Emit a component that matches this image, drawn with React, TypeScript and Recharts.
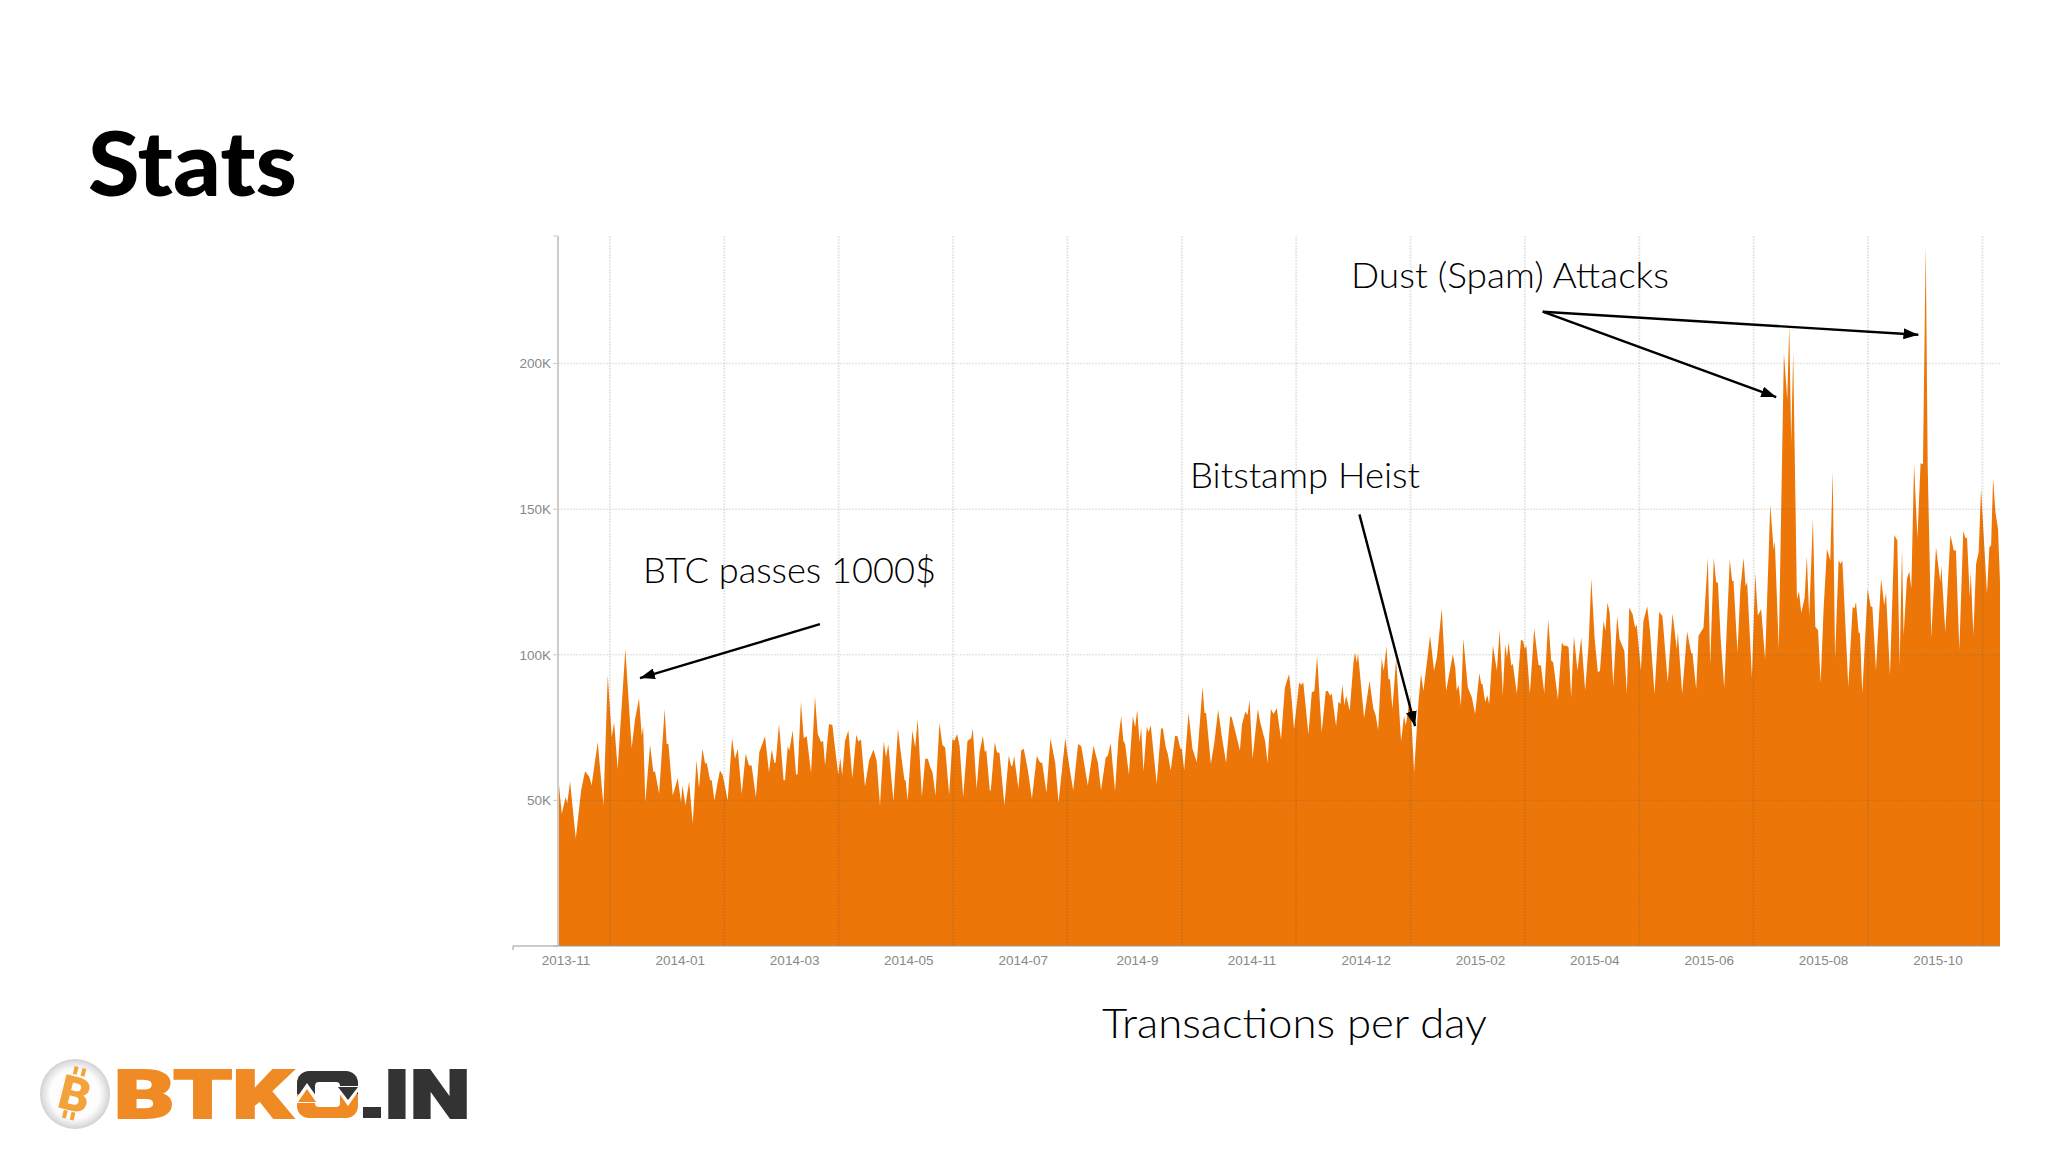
import { AreaChart, Area, XAxis, YAxis, ReferenceLine } from 'recharts';

// days since the left edge of the chart
const days = [
  0, 1.9, 3.9, 4.7, 6.1, 9, 11.7, 13.7, 15.9, 17,
  20.1, 23, 25.2, 27.2, 28.4, 30.2, 34.1, 37.3, 39, 41,
  42.4, 43.1, 44.2, 46.6, 48.3, 49.1, 51.2, 54, 55, 55.9,
  58.1, 60.6, 62.3, 63, 64.5, 66.4, 68.2, 70.1, 71.4, 73.1,
  74.5, 75.3, 77, 77.8, 79.2, 80.7, 82, 83.4, 85.9, 88.1,
  89.6, 91, 93, 95, 96.7, 98, 100.2, 101.9, 104.8, 106.8,
  108.2, 109.5, 110.2, 111.9, 114.2, 114.9, 116.3, 117.1, 118.8, 120.5,
  121.3, 123, 124.4, 125.9, 128.1, 130.1, 131.5, 133.2, 134.2, 135.2,
  137.2, 138.9, 140.2, 141.9, 142.9, 143.9, 145.3, 147, 149, 151,
  152, 153.4, 155.4, 157.5, 159.7, 161.3, 163, 164.9, 166.1, 167.2,
  169.8, 172.1, 173.2, 175.4, 176, 177, 179.4, 180.8, 182.1, 184.2,
  185.9, 187.2, 188.6, 189.6, 191.1, 193.1, 194.6, 196, 198, 199.7,
  200.7, 202, 203.3, 205.1, 207.3, 209.2, 210, 211.9, 213.5, 215.1,
  216.1, 216.8, 218.6, 219.1, 221.1, 222.2, 223.5, 226, 228.2, 229.4,
  230.1, 230.9, 233.1, 234.5, 235.8, 237.9, 239.9, 242.4, 244.1, 245.1,
  247.3, 249.3, 251.7, 253.4, 256.8, 258, 260.8, 263.3, 264.9, 268.2,
  271.1, 271.9, 273.3, 274.9, 277.3, 278.3, 279.8, 282, 283.7, 285.1,
  286.2, 287.1, 289, 291, 292.2, 293.2, 294.4, 295.2, 296.4, 298.1,
  298.9, 300.1, 303.1, 305.3, 306.2, 307.7, 308.7, 310.2, 312.4, 313.6,
  315.1, 315.8, 317, 319.2, 321.2, 323.4, 326.3, 327.3, 328.1, 330.5,
  332.3, 334.2, 336, 338.2, 340.3, 341.1, 343.6, 345.2, 346.3, 348,
  349.1, 350.1, 351.6, 354.3, 355.5, 358, 359.2, 360.9, 362.2, 363.9,
  366, 368, 370.1, 371.4, 372.6, 375.2, 376.2, 377.3, 379.9, 381.6,
  382.9, 384.3, 386.6, 388.7, 389.7, 390.9, 391.7, 393.9, 395.1, 396.1,
  397.1, 398.1, 399, 400.8, 402.7, 403.5, 404.4, 405, 408.1, 410.8,
  412.8, 413.8, 415.2, 417, 418, 419.4, 420.4, 421.2, 422.4, 424.3,
  426.8, 428.3, 429.2, 431.4, 433.4, 435.6, 436.9, 438.1, 441.5, 443.5,
  444.9, 447.4, 449.6, 453, 454.2, 455, 455.9, 457.1, 458.3, 460.6,
  462.6, 464.3, 466.4, 467.4, 468, 469.4, 470.4, 471.4, 473.3, 475.3,
  476.7, 478.3, 479.5, 480.4, 481.2, 482.6, 483.4, 485.4, 487.5, 488.5,
  489.5, 490.2, 492, 494.2, 496.4, 497.6, 499.3, 501.3, 502.8, 503.8,
  506.2, 508.2, 509.2, 510.7, 511.6, 512.9, 514.3, 516.1, 518, 520,
  521.7, 523.1, 524.8, 526.4, 527.5, 529.3, 530.3, 531.3, 532.4, 534.2,
  536.2, 537.4, 539.8, 541.1, 542.3, 544, 545.3, 546.1, 548.2, 549.5,
  551.4, 552.9, 555.1, 557.5, 559.1, 561.8, 564.2, 566.4, 566.9, 569.1,
  571.6, 573.7, 574.3, 576.2, 577.4, 579.9, 582.1, 583.3, 585.1, 586.3,
  587.2, 588.7, 590.4, 593.2, 594.4, 595.1, 597.1, 598.6, 600.2, 601.2,
  602, 604.4, 606.1, 607.4, 609.1, 611.1, 613.7, 615.4, 616, 618,
  620.6, 622.3, 623.3, 624.3, 625.3, 627.2, 628.2, 629.4, 631.1, 632.2,
  633.4, 635.3, 636.5, 637.9, 639.2, 640.7, 642.4, 644.1, 645.3, 646.5,
  648.3, 649.3, 650.2, 653.2, 655.4, 656.4, 657.1, 658.4, 659.1, 660.3,
  663, 664.5, 665.4, 667.2, 669.8, 671.4, 672.3, 674.3, 676.5, 678,
  679.2, 680.4, 681.2, 682.9, 684.1, 685.1, 686.5, 688.2, 689.8, 691,
  692.4, 693.4, 695.2, 697.6, 699.8, 700.3, 702.3, 704.9, 706.6, 707.7,
  709.4, 711.4, 712.5, 713.3, 714.7, 715.2, 716.5, 717.9, 719.2, 720.4,
  721.7, 723.4, 724.6, 725.5, 726.5, 727.7, 729, 730,
];

// transactions per day, in thousands
const txPerDay = [
  58.8, 45.4, 51.2, 48.9, 56.5, 36.9, 53.4, 60, 58, 55.1,
  70, 48.3, 93, 71.7, 76.8, 60.8, 101.9, 67.9, 77.9, 85,
  72.2, 75.4, 49.4, 69, 59.7, 60, 52.3, 81.4, 69.4, 69.4,
  51.7, 57.6, 49.4, 55.1, 48.3, 56.5, 42, 63.7, 54.3, 67.7,
  62.6, 62.9, 56.9, 56.9, 50, 55.7, 60.3, 58.6, 50, 71.3,
  64.3, 67.7, 52.3, 66, 62, 62, 51.2, 66.5, 72, 59.7,
  67.5, 62.9, 63, 76.2, 56.9, 56.9, 68.6, 67.1, 74, 58.8,
  59.1, 83.9, 71.3, 72, 59.4, 85.7, 72.8, 70, 70.5, 62,
  76.2, 75.9, 68.2, 58.8, 64.5, 58.6, 70.5, 74, 57.6, 72.5,
  70.2, 70.9, 54.8, 63.7, 67.5, 63.7, 48.3, 70.2, 64.8, 69.4,
  49.7, 74.7, 68.2, 56.9, 56.9, 50, 74, 68.2, 77.9, 51.2,
  64.3, 64.3, 61.1, 59.7, 51.7, 76.6, 69, 68.2, 51.9, 71.1,
  70.5, 72.8, 68.8, 51.2, 70.5, 71.3, 74.7, 54, 66.8, 72.2,
  66.5, 67.3, 53.4, 53.4, 70, 66.5, 66.3, 48.3, 65.4, 61.8,
  62, 65.2, 54, 67.1, 67.7, 60.3, 50.6, 65.2, 62.9, 62.9,
  52.6, 71.3, 62.9, 49.4, 71.3, 65.4, 53.4, 69.4, 68.6, 55.1,
  68.8, 66.5, 63.1, 53.4, 64.8, 65.2, 69.6, 53.1, 71.1, 78.9,
  70.5, 69.4, 58.8, 78.9, 75.1, 81.1, 70, 75.1, 59.9, 75.4,
  73.4, 75.7, 55.7, 74.7, 74.7, 68.2, 66, 60.3, 72.2, 72,
  67.7, 67.7, 60.3, 80, 67.7, 63.1, 89, 80, 80, 62.6,
  70, 81.1, 72.2, 62.9, 78.9, 78.5, 71.7, 67.1, 76.2, 80.4,
  79.3, 84.5, 64.3, 81.4, 76.8, 70.2, 62.9, 81.4, 79.7, 81.6,
  70.9, 88.8, 93.4, 84.8, 74.3, 90.5, 89.6, 90.5, 72.6, 87.1,
  87.6, 99.6, 73.4, 87.6, 87.6, 85.9, 86.7, 75.5, 83.9, 83.1,
  89.9, 82.7, 85.9, 80.8, 97.3, 100.8, 97.3, 100.5, 78.2, 91.1,
  81.4, 79.7, 74.2, 98.7, 94.5, 102.8, 91.6, 91.6, 81.4, 98.5,
  70.2, 79.1, 75.7, 85.9, 59.7, 83.7, 93.4, 87.6, 106.5, 94.5,
  99, 115.8, 87.6, 100.2, 95.7, 87.7, 89.6, 82.5, 105.6, 88.8,
  85.4, 79.7, 93.7, 90, 90, 83.7, 86.2, 83.1, 103.3, 94.5,
  108.6, 86.2, 103.6, 99.1, 104.4, 96.2, 96.8, 86.6, 105.1, 104.8,
  101.9, 103.3, 86.6, 109, 96.5, 96.2, 86.9, 112, 98, 97.4,
  84.8, 104.2, 103.1, 103.1, 102.5, 85.4, 106.3, 94.5, 105.9, 87.7,
  103.1, 126.2, 105.4, 94, 94.5, 111.6, 108.2, 117.9, 114.5, 89.4,
  113.3, 105.4, 101.4, 86.6, 116.2, 113.9, 109.3, 110.4, 94.5, 111.6,
  116.7, 107.6, 86.5, 114.7, 113.3, 90.5, 114.2, 101.9, 107.8, 86.5,
  108, 100.5, 100.5, 88.2, 106.5, 109.3, 133.3, 96.8, 133.3, 124.9,
  124.7, 104.2, 88.8, 132.7, 125.3, 125.3, 100.8, 123, 133.3, 123.6,
  124.9, 92.2, 128.1, 113.5, 115.6, 98.5, 151.5, 136.1, 139, 101.9,
  203.6, 187.6, 213.4, 172.6, 203.9, 119, 121.9, 114.4, 119.6, 133.8,
  113.3, 146.9, 109.6, 108.4, 90.2, 115.8, 136.3, 132.4, 163.1, 98.7,
  132.4, 131.2, 132.4, 89, 116.4, 116, 118.1, 107.8, 107.3, 86.8,
  122.7, 116.7, 116.4, 94.7, 126.1, 117, 121.5, 93, 141.1, 139.2,
  96.4, 136.6, 106.7, 126.1, 128.6, 122.7, 165.4, 139.8, 165.8, 165.4,
  240.6, 164.8, 106.1, 136.9, 124.9, 130.6, 107.8, 141.1, 135.8, 135.8,
  101.6, 142.6, 140, 140.3, 119.8, 128.4, 106.7, 131.2, 135.2, 156.9,
  141.5, 120.9, 136.9, 137.5, 160.5, 148.9, 143.2, 125,
];

const xTickDays = [4, 61.9, 119.8, 177.6, 235.5, 293.4, 351.3, 409.2, 467, 524.9, 582.8, 640.7, 698.6];
const xTickLabels = [
  '2013-11', '2014-01', '2014-03', '2014-05', '2014-07', '2014-9', '2014-11',
  '2014-12', '2015-02', '2015-04', '2015-06', '2015-08', '2015-10',
];
const yTop = 243.8;
const yTicks = [0, 50, 100, 150, 200, yTop];
const yGrid = [50, 100, 150, 200];
const xGridDays = [26.3, 84.2, 142.1, 200, 257.9, 315.8, 373.7, 431.6, 489.5, 547.4, 605.3, 663.2, 721.1];

// arrows, in chart units: [fromDay, fromTx, toDay, toTx]
const arrows = [
  [132.6, 110.5, 41.5, 92],
  [405.7, 148.2, 433.9, 75.5],
  [498.5, 217.8, 688.7, 209.9],
  [498.5, 217.8, 616.7, 188.5],
];

const data = days.map((day, i) => ({ day, tx: txPerDay[i] }));

const GRID = 'rgba(85,85,85,0.14)';
const ORANGE = '#ec7607';
const LOGO_ORANGE = '#ef8a24';
const LOGO_DARK = '#333333';
const tickStyle = { fontSize: 13.5, fill: '#888888', fontFamily: '"Liberation Sans", Arial, sans-serif' };
const noteFont = 'Lato, "Open Sans", sans-serif';

function ArrowLine(props: any) {
  return (
    <line
      x1={props.x1}
      y1={props.y1}
      x2={props.x2}
      y2={props.y2}
      stroke="#000"
      strokeWidth={2.4}
      markerEnd="url(#arrowHead)"
    />
  );
}

function Logo() {
  return (
    <g>
      <defs>
        <radialGradient id="coin" cx="50%" cy="50%" r="50%">
          <stop offset="70%" stopColor="#fdfdfd" />
          <stop offset="90%" stopColor="#e2e2e2" />
          <stop offset="100%" stopColor="#d0d0d0" />
        </radialGradient>
        <clipPath id="logoTop"><rect x={290} y={1065} width={75} height={29} /></clipPath>
        <clipPath id="logoBottom"><rect x={290} y={1094} width={75} height={30} /></clipPath>
      </defs>
      <circle cx={75} cy={1094} r={35} fill="url(#coin)" />
      <g transform="rotate(14 75 1094)" fill="#f4a33a">
        <rect x={68} y={1067} width={4} height={8} />
        <rect x={76} y={1067} width={4} height={8} />
        <rect x={68} y={1112} width={4} height={8} />
        <rect x={76} y={1112} width={4} height={8} />
        <text x={75} y={1111} textAnchor="middle" fontSize={48} fontWeight={900} fontFamily="Roboto, sans-serif">B</text>
      </g>
      <text x={114} y={1118.3} fontSize={66} fontWeight={900} fontFamily="Roboto, sans-serif" fill={LOGO_ORANGE} textLength={178} lengthAdjust="spacingAndGlyphs" stroke={LOGO_ORANGE} strokeWidth={2}>BTK</text>
      <rect x={297} y={1071} width={61} height={47} rx={12} fill={LOGO_DARK} clipPath="url(#logoTop)" />
      <rect x={297} y={1071} width={61} height={47} rx={12} fill={LOGO_ORANGE} clipPath="url(#logoBottom)" />
      <rect x={315} y={1082} width={25} height={25} rx={4} fill="#fff" />
      <polygon points="307,1083 321,1103 293,1103" fill="#fff" />
      <polygon points="307,1089 316,1102 298,1102" fill={LOGO_ORANGE} />
      <polygon points="348,1106 362,1086 334,1086" fill="#fff" />
      <polygon points="348,1100 358,1087 338,1087" fill={LOGO_DARK} />
      <rect x={363} y={1107} width={18} height={11} fill={LOGO_DARK} />
      <text x={384} y={1118.3} fontSize={66} fontWeight={900} fontFamily="Roboto, sans-serif" fill={LOGO_DARK} textLength={86} lengthAdjust="spacingAndGlyphs" stroke={LOGO_DARK} strokeWidth={2}>IN</text>
    </g>
  );
}

export default function App() {
  return (
    <div style={{ position: 'absolute', left: 0, top: 0, width: 2048, height: 1152, background: '#fff', overflow: 'hidden' }}>
      <AreaChart
        width={2048}
        height={1152}
        data={data}
        margin={{ top: 236, right: 48, bottom: 176, left: 511 }}
      >
        <defs>
          <marker id="arrowHead" markerUnits="userSpaceOnUse" markerWidth={15} markerHeight={11} refX={15} refY={5.5} orient="auto">
            <path d="M0,0 L15,5.5 L0,11 z" fill="#000" />
          </marker>
        </defs>
        <XAxis
          dataKey="day"
          type="number"
          domain={[0, 730]}
          ticks={xTickDays}
          interval={0}
          tick={tickStyle}
          tickFormatter={(d: number) => xTickLabels[xTickDays.indexOf(d)]}
          tickLine={false}
          tickMargin={3}
          axisLine={{ stroke: '#999999' }}
          height={30}
        />
        <YAxis
          type="number"
          domain={[0, yTop]}
          ticks={yTicks}
          interval={0}
          width={47}
          tick={tickStyle}
          tickFormatter={(v: number) => (v === 0 || v === yTop ? '' : `${v}K`)}
          tickSize={5}
          tickLine={{ stroke: '#cccccc' }}
          axisLine={{ stroke: '#cccccc', strokeWidth: 2 }}
        />
        <Area
          dataKey="tx"
          type="linear"
          fill={ORANGE}
          fillOpacity={1}
          stroke="none"
          dot={false}
          activeDot={false}
          isAnimationActive={false}
        />
        {yGrid.map((v) => (
          <ReferenceLine key={`y${v}`} y={v} stroke={GRID} strokeWidth={1.5} strokeDasharray="2 1" />
        ))}
        {xGridDays.map((d) => (
          <ReferenceLine key={`x${d}`} x={d} stroke={GRID} strokeWidth={2} strokeDasharray="2 1" />
        ))}
        {arrows.map((a, i) => (
          <ReferenceLine
            key={`arrow${i}`}
            segment={[{ x: a[0], y: a[1] }, { x: a[2], y: a[3] }]}
            shape={ArrowLine}
          />
        ))}
      </AreaChart>
      <svg width={2048} height={1152} style={{ position: 'absolute', left: 0, top: 0, pointerEvents: 'none' }}>
        <line x1={513} y1={946} x2={558} y2={946} stroke="#999999" strokeWidth={1} />
        <line x1={513} y1={946} x2={513} y2={950} stroke="#999999" strokeWidth={1} />
        <text x={88} y={196} fontSize={90} fontWeight={900} fontFamily={noteFont} fill="#000" textLength={209} lengthAdjust="spacingAndGlyphs">Stats</text>
        <text x={643} y={583} fontSize={36} fontWeight={300} fontFamily={noteFont} fill="#000" textLength={293} lengthAdjust="spacingAndGlyphs">BTC passes 1000$</text>
        <text x={1190} y={488} fontSize={36} fontWeight={300} fontFamily={noteFont} fill="#000" textLength={230} lengthAdjust="spacingAndGlyphs">Bitstamp Heist</text>
        <text x={1351} y={288} fontSize={36} fontWeight={300} fontFamily={noteFont} fill="#000" textLength={318} lengthAdjust="spacingAndGlyphs">Dust (Spam) Attacks</text>
        <text x={1102} y={1038} fontSize={42} fontWeight={300} fontFamily={noteFont} fill="#000" textLength={385} lengthAdjust="spacingAndGlyphs">Transactions per day</text>
        <Logo />
      </svg>
    </div>
  );
}
